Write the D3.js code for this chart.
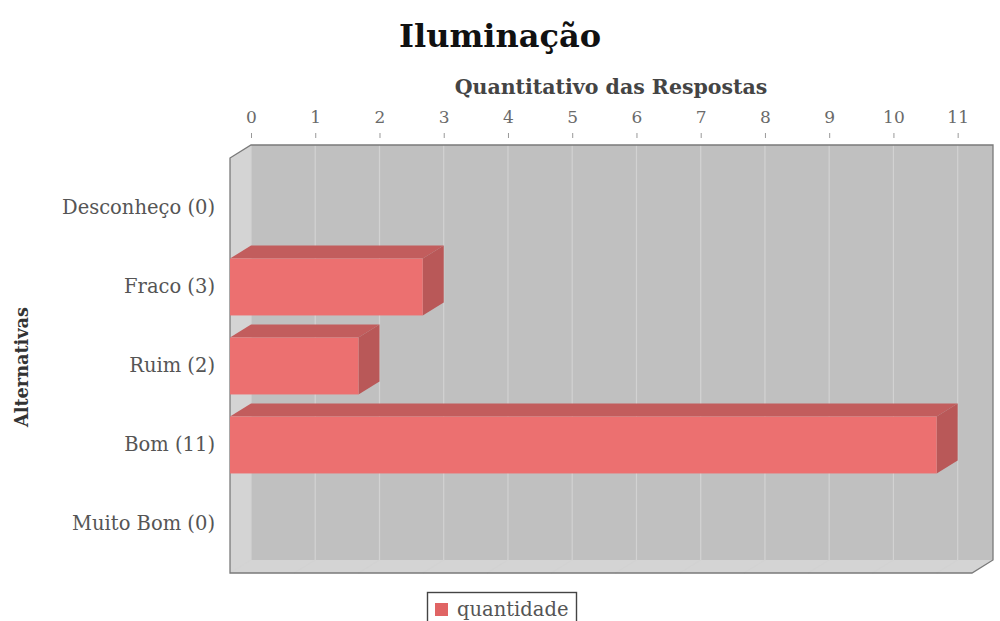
<!DOCTYPE html>
<html><head><meta charset="utf-8">
<script src="https://cdn.jsdelivr.net/npm/d3@7"></script>
<style>
html,body{margin:0;padding:0;background:#fff;}
svg{display:block;}
</style></head>
<body>
<script>
const title = "Iluminação";
const xAxisTitle = "Quantitativo das Respostas";
const yAxisTitle = "Alternativas";
const categories = ["Desconheço (0)", "Fraco (3)", "Ruim (2)", "Bom (11)", "Muito Bom (0)"];
const values = [0, 3, 2, 11, 0];
const tickValues = [0, 1, 2, 3, 4, 5, 6, 7, 8, 9, 10, 11];
const axisUpper = 11.55;
const seriesName = "quantidade";

const W = 1000, H = 621;
const dx = 21, dy = 13; // 3D offset
const font = "'DejaVu Serif', serif";

const svg = d3.select("body").append("svg").attr("width", W).attr("height", H);

// plot box (back wall coordinates)
const backL = 251, backR = 993, backT = 145, backB = 560;

const x = d3.scaleLinear().domain([0, axisUpper]).range([backL, backR]);
const y = d3.scaleBand().domain(categories).range([168.5, 563.5]).paddingInner(0.28).paddingOuter(0.14);

// back wall
svg.append("rect").attr("x", backL).attr("y", backT).attr("width", backR - backL).attr("height", backB - backT)
  .attr("fill", "#c0c0c0");
// left wall
svg.append("path").attr("d", `M${backL - dx},${backT + dy}L${backL},${backT}L${backL},${backB}L${backL - dx},${backB + dy}Z`)
  .attr("fill", "#d4d4d4");
// floor
svg.append("path").attr("d", `M${backL - dx},${backB + dy}L${backL},${backB}L${backR},${backB}L${backR - dx},${backB + dy}Z`)
  .attr("fill", "#d4d4d4");

// gridlines
svg.append("g").selectAll("path").data(tickValues).join("path")
  .attr("d", d => `M${x(d) - dx},${backB + dy}L${x(d)},${backB}L${x(d)},${backT}`)
  .attr("fill", "none").attr("stroke", "#d2d2d2").attr("stroke-width", 1.2);

// outline
svg.append("path")
  .attr("d", `M${backL - dx},${backT + dy}L${backL},${backT}L${backR},${backT}L${backR},${backB}L${backR - dx},${backB + dy}L${backL - dx},${backB + dy}Z`)
  .attr("fill", "none").attr("stroke", "#7a7a7a").attr("stroke-width", 1.3);

// bars
const bars = svg.append("g");
categories.forEach((c, i) => {
  const v = values[i];
  if (!v) return;
  const y0 = y(c), bh = y.bandwidth();
  const xr = x(v), xl = x(0);
  // top face
  bars.append("path").attr("d", `M${xl - dx},${y0}L${xl},${y0 - dy}L${xr},${y0 - dy}L${xr - dx},${y0}Z`)
    .attr("fill", "#c25d5d");
  // right face
  bars.append("path").attr("d", `M${xr - dx},${y0}L${xr},${y0 - dy}L${xr},${y0 + bh - dy}L${xr - dx},${y0 + bh}Z`)
    .attr("fill", "#b95858");
  // front face
  bars.append("rect").attr("x", xl - dx).attr("y", y0).attr("width", xr - xl).attr("height", bh)
    .attr("fill", "#ec7070");
});

// top axis
const xAxis = svg.append("g").attr("transform", `translate(0,${backT - 7})`)
  .call(d3.axisTop(x).tickValues(tickValues).tickSize(5).tickPadding(10).tickFormat(d3.format("d")));
xAxis.select(".domain").remove();
xAxis.selectAll(".tick line").attr("stroke", "#999");
xAxis.selectAll("text").attr("font-family", font).attr("font-size", 17).attr("fill", "#6a6a6a");

// left axis (category labels)
const yAxis = svg.append("g").attr("transform", `translate(${backL - dx - 15},0)`)
  .call(d3.axisLeft(y).tickSize(0).tickPadding(0));
yAxis.select(".domain").remove();
yAxis.selectAll("text").attr("font-family", font).attr("font-size", 19.5).attr("fill", "#555");

// titles
svg.append("text").attr("x", 500).attr("y", 47).attr("text-anchor", "middle")
  .attr("font-family", font).attr("font-weight", "bold").attr("font-size", 32).attr("fill", "#111").text(title);
svg.append("text").attr("x", 611).attr("y", 94).attr("text-anchor", "middle")
  .attr("font-family", font).attr("font-weight", "bold").attr("font-size", 20.5).attr("fill", "#444").text(xAxisTitle);
svg.append("text").attr("transform", "translate(28,367) rotate(-90)").attr("text-anchor", "middle")
  .attr("font-family", font).attr("font-weight", "bold").attr("font-size", 19).attr("fill", "#333")
  .attr("textLength", 120).attr("lengthAdjust", "spacingAndGlyphs").text(yAxisTitle);

// legend
const lg = svg.append("g");
lg.append("rect").attr("x", 427.5).attr("y", 592.5).attr("width", 149).attr("height", 40)
  .attr("fill", "#fff").attr("stroke", "#444").attr("stroke-width", 1.4);
lg.append("rect").attr("x", 435).attr("y", 603).attr("width", 13).attr("height", 13).attr("fill", "#e06464");
lg.append("text").attr("x", 457).attr("y", 616).attr("font-family", font).attr("font-size", 19.5).attr("fill", "#555").text(seriesName);
</script>
</body></html>
